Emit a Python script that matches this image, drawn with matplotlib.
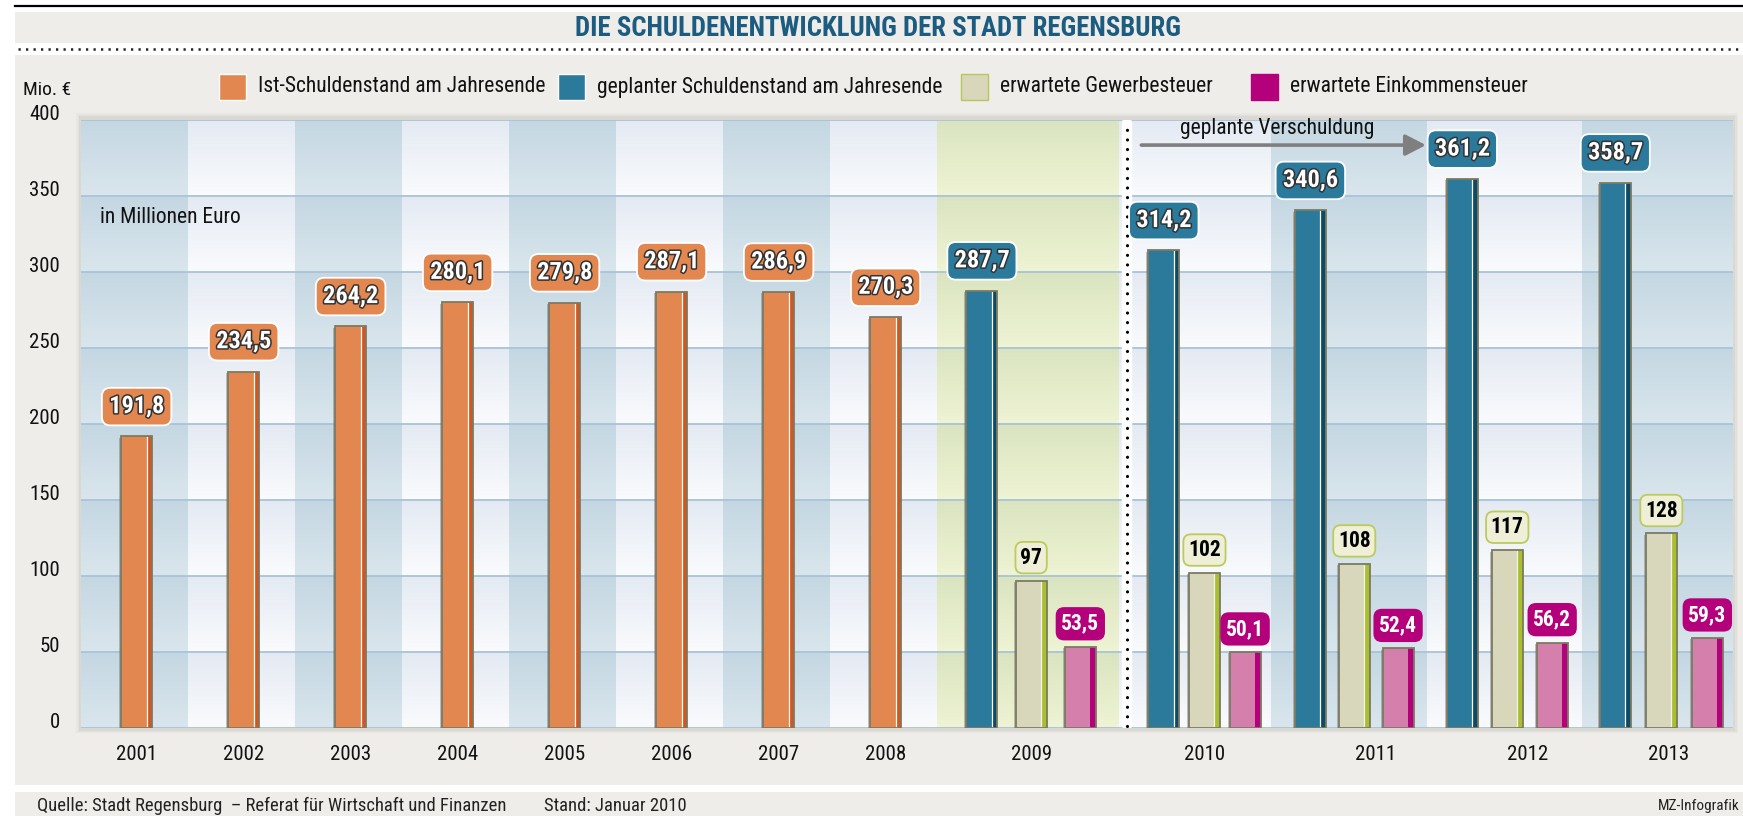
import matplotlib
matplotlib.use("Agg")
import matplotlib.pyplot as plt
import numpy as np
from matplotlib.patches import Rectangle
from matplotlib.lines import Line2D
import matplotlib.patheffects as pe
from matplotlib import font_manager

# ---------------- data ----------------
years_actual = ["2001", "2002", "2003", "2004", "2005", "2006", "2007", "2008"]
debt_actual = [191.8, 234.5, 264.2, 280.1, 279.8, 287.1, 286.9, 270.3]

years_plan = ["2009", "2010", "2011", "2012", "2013"]
debt_plan = [287.7, 314.2, 340.6, 361.2, 358.7]
trade_tax = [97, 102, 108, 117, 128]
income_tax = [53.5, 50.1, 52.4, 56.2, 59.3]

y_ticks = [0, 50, 100, 150, 200, 250, 300, 350, 400]

legend_labels = ["Ist-Schuldenstand am Jahresende",
                 "geplanter Schuldenstand am Jahresende",
                 "erwartete Gewerbesteuer",
                 "erwartete Einkommensteuer"]

title = "DIE SCHULDENENTWICKLUNG DER STADT REGENSBURG"
unit_label = "Mio. €"
note = "in Millionen Euro"
arrow_text = "geplante Verschuldung"
source = "Quelle: Stadt Regensburg  – Referat für Wirtschaft und Finanzen"
stand = "Stand: Januar 2010"
credit = "MZ-Infografik"

# ---------------- layout ----------------
W, H = 1743, 816
XMAX = 15.44
bar_w = 0.29
actual_pos = [i + 0.52 for i in range(len(years_actual))]
group_center = [8.88, 10.50, 11.90, 13.33, 14.77]
group_off = [0.46, 0.38, 0.41, 0.42, 0.43]
year_nudge = [0, 0, 0, 0, 0, 0, 0, 0, 0, 0, 0.2, 0.19, 0.07]

# colours
ORANGE, ORANGE_D = "#E2874F", "#D4561E"
BLUE, BLUE_D = "#2B7A9B", "#0C4A66"
BEIGE, BEIGE_D = "#D9D7BB", "#A9BF2F"
PINK, PINK_D = "#D47FAC", "#B4007A"
EDGE = "#7C7A62"
PANEL = "#EEEDE9"
TITLE_C = "#1B5C80"

names = {f.name for f in font_manager.fontManager.ttflist}
NARROW = "Liberation Sans Narrow" if "Liberation Sans Narrow" in names else (
    "Roboto Condensed" if "Roboto Condensed" in names else "Liberation Sans")
plt.rcParams["font.family"] = [NARROW, "DejaVu Sans"]

fig = plt.figure(figsize=(W / 100, H / 100), dpi=100)
fig.patch.set_facecolor("white")


def fx(x):
    return x / W


def fy(y):
    return 1 - y / H


# frame / panels
fig.add_artist(Line2D([fx(15), 1], [fy(6), fy(6)], color="black", lw=1.6, zorder=-10))
fig.add_artist(Rectangle((fx(15), fy(43)), 1 - fx(15), (43 - 12) / H, fc=PANEL, ec="none", zorder=-10))
fig.add_artist(Line2D([fx(18), 1], [fy(49), fy(49)], color="#222222", lw=1.8,
                      dashes=(0.9, 2.1), zorder=-10))
fig.add_artist(Rectangle((fx(15), fy(785)), 1 - fx(15), (785 - 55) / H, fc=PANEL, ec="none", zorder=-10))
fig.add_artist(Rectangle((fx(15), 0), 1 - fx(15), (816 - 792) / H, fc=PANEL, ec="none", zorder=-10))
# soft shadow round plot area
for k, a in enumerate([0.05, 0.07, 0.09]):
    d = 5 - k * 1.5
    fig.add_artist(Rectangle((fx(81 - d), fy(730 + d / 2)), (1652 + 2 * d) / W, (612 + 1.5 * d) / H,
                             fc="#8A8878", ec="none", alpha=a, zorder=-9))

fig.text(fx(878), fy(28), title, ha="center", va="center", fontsize=19.3,
         fontweight="bold", color=TITLE_C)

# legend (drawn manually to follow the original spacing)
leg_x = [219, 558, 961, 1251]
leg_fc = [ORANGE, BLUE, BEIGE, PINK_D]
leg_ec = ["white", "white", "#B6C65A", PINK_D]
for xx, lab, fc, ec in zip(leg_x, legend_labels, leg_fc, leg_ec):
    fig.add_artist(Rectangle((fx(xx), fy(100)), 27 / W, 26 / H, fc=fc, ec=ec, lw=1.0))
    fig.text(fx(xx + 39), fy(87), lab, ha="left", va="center", fontsize=15.5, color="#111111")

fig.text(fx(23), fy(90), unit_label, ha="left", va="center", fontsize=14, color="#111111")

# footer
fig.text(fx(37), fy(806), source, ha="left", va="center", fontsize=13.4, color="#222222")
fig.text(fx(544), fy(806), stand, ha="left", va="center", fontsize=13.4, color="#222222")
fig.text(fx(1740), fy(806), credit, ha="right", va="center", fontsize=11, color="#222222")

# ---------------- axes ----------------
ax = fig.add_axes([fx(81), fy(728), 1652 / W, 608 / H])
for s in ax.spines.values():
    s.set_visible(False)

# background column stripes with per-band gradient
pal = {
    "dark": (np.array([0xC4, 0xD7, 0xE2]), np.array([0xDA, 0xE6, 0xED])),
    "light": (np.array([0xE4, 0xEA, 0xF3]), np.array([0xFA, 0xFB, 0xFD])),
    "green": (np.array([0xDA, 0xE4, 0xC0]), np.array([0xEF, 0xF4, 0xD4])),
}
cols = [(i, i + 1, "dark" if i % 2 == 0 else "light") for i in range(8)]
cols += [(8, 9.70, "green"), (9.70, 11.12, "light"), (11.12, 12.58, "dark"),
         (12.58, 14.03, "light"), (14.03, XMAX + 0.01, "dark")]
nx, ny = 1652, 800
xs = (np.arange(nx) + 0.5) / nx * XMAX
ys = (np.arange(ny) + 0.5) / ny * 400
t = (ys % 50) / 50.0
img = np.ones((ny, nx, 3))
for x0, x1, kind in cols:
    m = (xs >= x0) & (xs < x1)
    top, bot = pal[kind]
    cc = (bot[None, :] * (1 - t[:, None]) + top[None, :] * t[:, None]) / 255.0
    img[:, m, :] = cc[:, None, :]
ax.imshow(img, origin="lower", extent=(0, XMAX, 0, 400), aspect="auto",
          interpolation="nearest", zorder=0)
ax.set_xlim(0, XMAX)
ax.set_ylim(0, 400)

ax.set_axisbelow(True)
ax.set_yticks(y_ticks)
ax.set_yticklabels([str(v) for v in y_ticks])
ax.yaxis.grid(True, color="#A9C3D6", lw=1.3)
ax.tick_params(axis="y", length=0, pad=15, labelsize=15, labelcolor="#111111")
for lab in ax.get_yticklabels():
    lab.set_verticalalignment("baseline")

# separator (white strip with dots)
SEP = 9.776
ax.plot([SEP, SEP], [2, 398], color="white", lw=7.5, solid_capstyle="round", zorder=1.5)
ax.plot([SEP, SEP], [1, 399], color="black", lw=2.3, dashes=(0.01, 3.0),
        dash_capstyle="round", zorder=1.6)

shadow = [pe.SimplePatchShadow(offset=(-1.5, -1.0), shadow_rgbFace="#555555", alpha=0.35), pe.Normal()]


def draw_bars(x, h, face, dark, sep_color):
    x = np.asarray(x, dtype=float)
    h = np.asarray(h, dtype=float)
    sw = bar_w * 0.18
    ax.bar(x, h, bar_w, color=face, lw=0, zorder=3, path_effects=shadow)
    ax.bar(x + bar_w / 2 - sw / 2, h, sw, color=dark, lw=0, zorder=3.1)
    if sep_color is not None:
        ax.vlines(x + bar_w / 2 - sw, 0, h, color=sep_color, lw=0.9, zorder=3.2)
    ax.bar(x, h, bar_w, fill=False, edgecolor=EDGE, lw=1.3, zorder=3.3)


def fmt(v):
    return f"{v:.1f}".replace(".", ",")


def value_label(x, v, text, face, edge, tcolor, size, dy, pad, stroke):
    effects = [pe.withStroke(linewidth=2.2, foreground="#333333")] if stroke else None
    ax.annotate(text, xy=(x, v), xytext=(0, dy), textcoords="offset points",
                ha="center", va="center", fontsize=size, fontweight="bold", color=tcolor,
                bbox=dict(boxstyle=f"round,pad={pad},rounding_size=0.35", fc=face, ec=edge, lw=1.3),
                path_effects=effects, zorder=6, annotation_clip=False)


# actual debt
draw_bars(actual_pos, debt_actual, ORANGE, ORANGE_D, "white")
for x, v in zip(actual_pos, debt_actual):
    value_label(x, v, fmt(v), ORANGE, "white", "white", 17.5, 21.5, 0.3, True)

# planned groups
gc = np.array(group_center)
go = np.array(group_off)
draw_bars(gc - go, debt_plan, BLUE, BLUE_D, "white")
draw_bars(gc, trade_tax, BEIGE, BEIGE_D, "#F4F4E6")
draw_bars(gc + go, income_tax, PINK, PINK_D, None)
for x, v in zip(gc - go, debt_plan):
    value_label(x, v, fmt(v), BLUE, "white", "white", 17.5, 21.5, 0.3, True)
for x, v in zip(gc, trade_tax):
    value_label(x, v, f"{v:d}", "#EEEFD6", "#BCCB5C", "black", 15.5, 16.5, 0.22, False)
for x, v in zip(gc + go, income_tax):
    value_label(x, v, fmt(v), PINK_D, PINK_D, "white", 15.5, 16.5, 0.22, False)

# year labels
tick_pos = list(actual_pos) + list(gc)
ax.set_xticks([p + n for p, n in zip(tick_pos, year_nudge)])
ax.set_xticklabels(years_actual + years_plan)
ax.tick_params(axis="x", length=0, pad=12, labelsize=15, labelcolor="#111111")

# annotations
ax.text(0.18, 336, note, ha="left", va="center", fontsize=15.5, color="#111111", zorder=6)
ax.annotate("", xy=(12.57, 383.5), xytext=(9.91, 383.5),
            arrowprops=dict(arrowstyle="-|>,head_length=0.62,head_width=0.32",
                            mutation_scale=20, color="#7F7F7F", lw=2.6, shrinkA=0, shrinkB=0),
            zorder=6)
ax.text(11.18, 394.5, arrow_text, ha="center", va="center", fontsize=15.5, color="#111111", zorder=6)

fig.savefig("out.png", dpi=100, facecolor="white")
